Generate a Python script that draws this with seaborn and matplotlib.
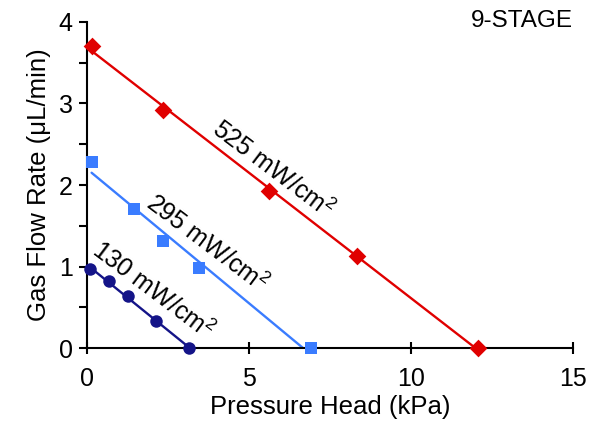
import numpy as np
import pandas as pd
import matplotlib
matplotlib.use("Agg")
import matplotlib.pyplot as plt
import seaborn as sns

# Data
x_525 = [0.15, 2.35, 5.62, 8.33, 12.07]
y_525 = [3.70, 2.92, 1.93, 1.13, 0.0]
x_295 = [0.15, 1.45, 2.35, 3.46, 6.92]
y_295 = [2.28, 1.71, 1.31, 0.98, 0.0]
x_130 = [0.10, 0.68, 1.27, 2.13, 3.17]
y_130 = [0.97, 0.82, 0.64, 0.33, 0.0]
labels = ["525 mW/cm$^2$", "295 mW/cm$^2$", "130 mW/cm$^2$"]
x_ticks = [0, 5, 10, 15]
y_ticks = [0, 1, 2, 3, 4]

sns.set_style("ticks")
plt.rcParams['font.family'] = ['Liberation Sans', 'DejaVu Sans']
plt.rcParams['mathtext.fontset'] = 'custom'
plt.rcParams['mathtext.rm'] = 'Liberation Sans'
plt.rcParams['mathtext.it'] = 'Liberation Sans'
for k in ['text.color', 'axes.labelcolor', 'xtick.color', 'ytick.color', 'axes.edgecolor']:
    plt.rcParams[k] = 'black'

fig = plt.figure(figsize=(5.9, 4.21), dpi=100)
ax = fig.add_axes([0.147, 0.173, 0.824, 0.775])

series = [
    (x_525, y_525, "#e00000", "D", 9, labels[0], (5.75, 2.19)),
    (x_295, y_295, "#3a7cff", "s", 8.5, labels[1], (3.72, 1.28)),
    (x_130, y_130, "#141488", "o", 9, labels[2], (2.05, 0.71)),
]

for xs, ys, col, mk, ms, lab, pos in series:
    xs = np.array(xs); ys = np.array(ys)
    p = np.polyfit(xs, ys, 1)
    xf = np.array([xs.min(), xs.max()])
    fit = pd.DataFrame({"x": xf, "y": np.polyval(p, xf)})
    sns.lineplot(data=fit, x="x", y="y", color=col, lw=1.7, ax=ax)
    df = pd.DataFrame({"x": xs, "y": ys})
    sns.scatterplot(data=df, x="x", y="y", color=col, marker=mk, s=ms**2,
                    edgecolor=col, linewidth=0, ax=ax, zorder=5, clip_on=False)
    ax.text(pos[0], pos[1], lab, rotation=-37, ha="center", va="center",
            fontsize=18, rotation_mode="anchor", color="black")

ax.set_xlim(0, 15)
ax.set_ylim(0, 4)
ax.set_xticks(x_ticks)
ax.set_yticks(y_ticks)
ax.set_yticks(np.arange(0, 4.01, 0.5), minor=True)
ax.tick_params(axis="x", direction="inout", length=9, width=1.5, labelsize=18, pad=9)
ax.tick_params(axis="y", which="both", direction="out", length=6, width=1.5, labelsize=18, pad=4)
for s in ["left", "bottom"]:
    ax.spines[s].set_linewidth(1.5)
sns.despine(ax=ax)
ax.set_xlabel("Pressure Head (kPa)", fontsize=18.5, labelpad=3)
ax.set_ylabel("Gas Flow Rate (μL/min)", fontsize=18.5, labelpad=6)
fig.text(0.971, 0.95, "9-STAGE", ha="right", va="center", fontsize=17.5)

fig.savefig("out.png", dpi=100)
